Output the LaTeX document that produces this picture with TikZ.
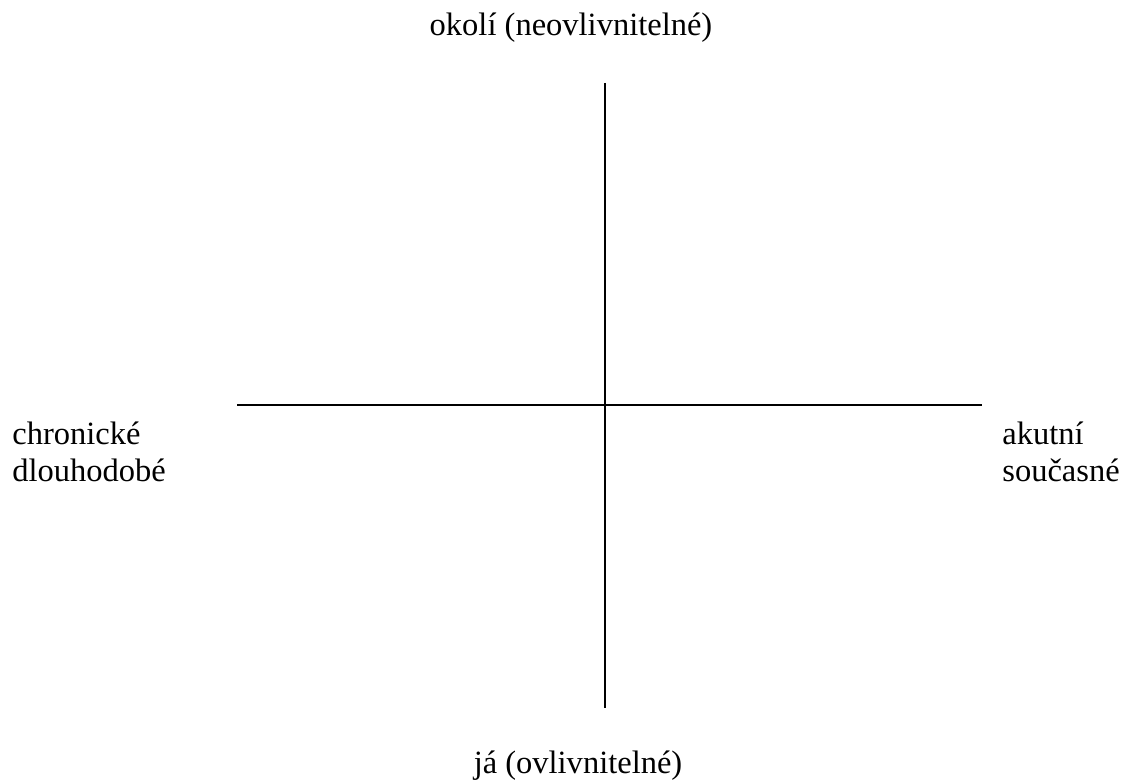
\documentclass[tikz,border=0pt]{standalone}
\usepackage{fontspec}
\setmainfont{Liberation Serif}
\usetikzlibrary{positioning}
\tikzset{
	axislabel/.style={font=\fontsize{18.5}{21}\selectfont, inner sep=0pt, align=left}
}
\tikzset{
	axisline/.style={line width=1.2pt, black}
}

\begin{document}
\begin{tikzpicture}[x=0.02cm, y=-0.02cm]
      \useasboundingbox (0,0) rectangle (1123,780);

      % ends of the two axes
      \coordinate (top) at (605,83);
      \coordinate (bottom) at (605,708);
      \coordinate (left) at (237,405);
      \coordinate (right) at (982,405);

      % axes
      \draw[axisline] (left) -- (right);
      \draw[axisline] (top) -- (bottom);

      % labels round the cross
      \node[axislabel, anchor=base] (okoli) at (571,36) {okolí (neovlivnitelné)};
      \node[axislabel, anchor=base] (ja) at (578,773) {já (ovlivnitelné)};
      \node[axislabel, anchor=base west] (chronicke) at (12,481) {chronické\\dlouhodobé};
      \node[axislabel, anchor=base west] (akutni) at (1002,481) {akutní\\současné};
    \end{tikzpicture}
\end{document}
